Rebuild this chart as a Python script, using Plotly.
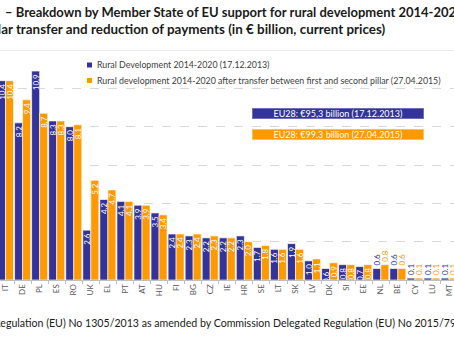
import plotly.graph_objects as go

# Member States, ordered by 2013 allocation
countries = ["IT", "DE", "PL", "ES", "RO", "UK", "EL", "PT", "AT", "HU", "FI", "BG", "CZ", "IE",
             "HR", "SE", "LT", "SK", "LV", "DK", "SI", "EE", "NL", "BE", "CY", "LU", "MT"]
# EU support for rural development 2014-2020, € billion
rd_2013 = [10.4, 8.2, 10.9, 8.3, 8.0, 2.6, 4.2, 4.1, 3.9, 3.5, 2.4, 2.3, 2.2, 2.2,
           2.3, 1.7, 1.6, 1.9, 1.0, 0.6, 0.8, 0.7, 0.6, 0.6, 0.1, 0.1, 0.1]
rd_2015 = [10.4, 9.4, 8.7, 8.3, 8.1, 5.2, 4.7, 4.1, 3.9, 3.4, 2.4, 2.4, 2.3, 2.2,
           2.0, 1.8, 1.6, 1.6, 1.1, 0.9, 0.8, 0.8, 0.8, 0.6, 0.1, 0.1, 0.1]
name_2013 = "Rural Development 2014-2020 (17.12.2013)"
name_2015 = "Rural development 2014-2020 after transfer between first and second pillar (27.04.2015)"
total_2013 = "EU28: €95,3 billion (17.12.2013)"
total_2015 = "EU28: €99.3 billion (27.04.2015)"

BLUE = "#333399"
ORANGE = "#FF9900"
FONT = "Lato, sans-serif"
W, H = 454, 341
TOP, BOTTOM = 50, 61
PLOT_H = H - TOP - BOTTOM


def py(pixel_y):
    """Convert a pixel row (from the top of the figure) to paper y."""
    return (H - BOTTOM - pixel_y) / PLOT_H


outside = {"NL", "BE", "CY", "LU", "MT"}
pos = ["outside" if c in outside else "inside" for c in countries]

fig = go.Figure()
for vals, color, name in [(rd_2013, BLUE, name_2013), (rd_2015, ORANGE, name_2015)]:
    fig.add_trace(go.Bar(
        x=countries, y=vals, name=name, showlegend=False,
        marker=dict(color=color, line=dict(color="rgba(255,255,255,0.8)", width=0.8)),
        text=[f"{v:.1f}" for v in vals], textposition=pos, textangle=-90,
        insidetextanchor="end",
        insidetextfont=dict(color="white", size=8, family=FONT),
        outsidetextfont=dict(color=color, size=8, family=FONT),
        cliponaxis=False,
    ))

fig.add_shape(type="line", xref="paper", yref="y", x0=0, x1=1, y0=12, y1=12,
              line=dict(color="#d9d9d9", width=1))

# legend: small square keys with series names
for (name, color), yc in zip([(name_2013, BLUE), (name_2015, ORANGE)], [65, 80.5]):
    fig.add_shape(type="rect", xref="paper", yref="paper",
                  x0=87 / W, x1=92 / W, y0=py(yc + 2.5), y1=py(yc - 2.5),
                  fillcolor=color, line=dict(width=0))
    fig.add_annotation(xref="paper", yref="paper", x=95 / W, y=py(yc),
                       xanchor="left", yanchor="middle", showarrow=False, text=name,
                       font=dict(size=8.8, color="#404040", family=FONT))

# totals boxes
for txt, color, border, yc in [(total_2013, BLUE, "#6f6fc0", 113), (total_2015, ORANGE, "#ffc060", 134)]:
    fig.add_annotation(xref="paper", yref="paper", x=338 / W, y=py(yc),
                       xanchor="center", yanchor="middle", text=txt,
                       showarrow=False, width=170, height=9, bgcolor=color,
                       bordercolor=border, borderwidth=1, borderpad=0,
                       font=dict(color="white", size=9, family=FONT))

# title (two lines)
fig.add_annotation(xref="paper", yref="paper", x=3 / W, y=py(12.5),
                   xanchor="left", yanchor="middle", showarrow=False,
                   text="<b>– Breakdown by Member State of EU support for rural development 2014-2020</b>",
                   font=dict(size=13, color="#1a1a1a", family=FONT))
fig.add_annotation(xref="paper", yref="paper", x=387 / W, y=py(29.5),
                   xanchor="right", yanchor="middle", showarrow=False,
                   text="<b>second pillar transfer and reduction of payments (in € billion, current prices)</b>",
                   font=dict(size=13.4, color="#1a1a1a", family=FONT))
# source line
fig.add_annotation(xref="paper", yref="paper", x=-8 / W, y=py(323),
                   xanchor="left", yanchor="middle", showarrow=False,
                   text="Regulation (EU) No 1305/2013 as amended by Commission Delegated Regulation (EU) No 2015/791",
                   font=dict(size=10.6, color="#1a1a1a", family=FONT))

fig.update_layout(
    width=W, height=H,
    margin=dict(l=0, r=0, t=TOP, b=BOTTOM, autoexpand=False),
    paper_bgcolor="white", plot_bgcolor="white",
    barmode="group", bargap=0.06, bargroupgap=0,
    font=dict(family=FONT, color="#404040"),
    uniformtext=dict(minsize=8, mode="show"),
    showlegend=False,
    xaxis=dict(range=[-0.324, 26.29], tickangle=-90, tickfont=dict(size=8, color="#595959"),
               showline=True, linecolor="#bfbfbf", linewidth=1,
               ticks="outside", tickson="boundaries", ticklen=3, tickcolor="#bfbfbf"),
    yaxis=dict(range=[0, 12], dtick=2, showticklabels=False, showgrid=True,
               gridcolor="#d9d9d9", griddash="dash", gridwidth=1, zeroline=False),
)

fig.write_html("out.html")
